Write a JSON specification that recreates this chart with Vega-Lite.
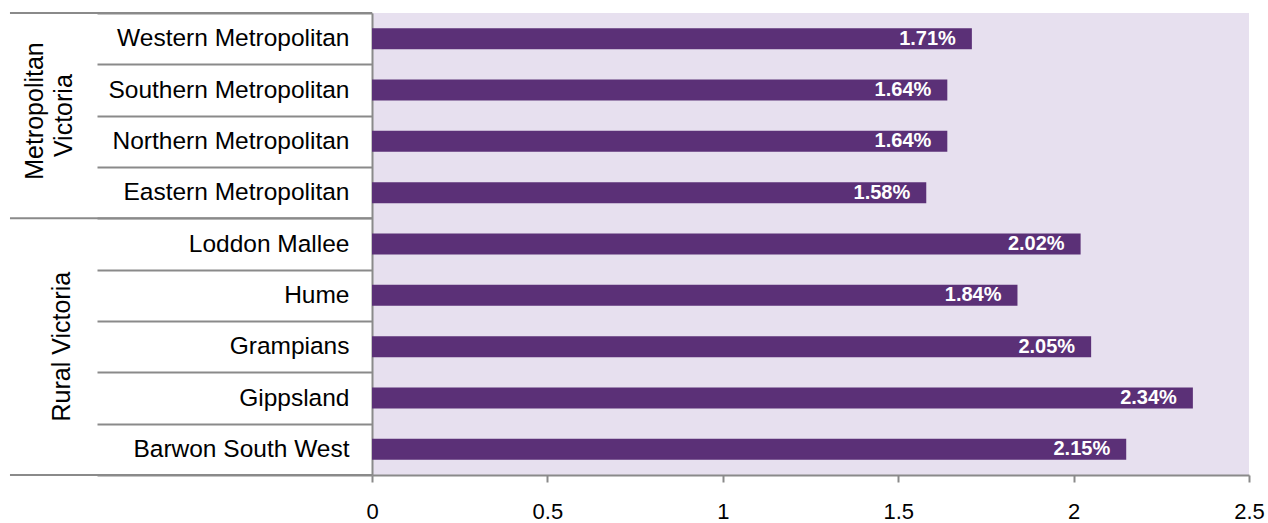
{
  "$schema": "https://vega.github.io/schema/vega-lite/v6.json",
  "width": 877,
  "height": 462,
  "autosize": {"type": "none"},
  "padding": {"left": 372, "top": 13, "right": 19, "bottom": 48},
  "background": "white",
  "config": {
    "font": "Liberation Sans",
    "view": {"fill": "#E7E0EF", "stroke": null},
    "axisX": {
      "grid": false,
      "domainColor": "#8A8A8A",
      "domainWidth": 2,
      "tickColor": "#8A8A8A",
      "tickWidth": 2,
      "tickSize": 7,
      "labelFontSize": 22,
      "labelColor": "#000000",
      "labelPadding": 19,
      "labelFlush": false
    },
    "axisY": {
      "grid": false,
      "tickBand": "extent",
      "tickSize": 275,
      "tickColor": "#8A8A8A",
      "tickWidth": 2,
      "domainColor": "#8A8A8A",
      "domainWidth": 2,
      "labelFontSize": 24.5,
      "labelColor": "#000000",
      "labelPadding": -252,
      "labelLimit": 400
    }
  },
  "datasets": {
    "regions": [
      {"region": "Western Metropolitan", "group": "Metropolitan Victoria", "value": 1.71, "label": "1.71%"},
      {"region": "Southern Metropolitan", "group": "Metropolitan Victoria", "value": 1.64, "label": "1.64%"},
      {"region": "Northern Metropolitan", "group": "Metropolitan Victoria", "value": 1.64, "label": "1.64%"},
      {"region": "Eastern Metropolitan", "group": "Metropolitan Victoria", "value": 1.58, "label": "1.58%"},
      {"region": "Loddon Mallee", "group": "Rural Victoria", "value": 2.02, "label": "2.02%"},
      {"region": "Hume", "group": "Rural Victoria", "value": 1.84, "label": "1.84%"},
      {"region": "Grampians", "group": "Rural Victoria", "value": 2.05, "label": "2.05%"},
      {"region": "Gippsland", "group": "Rural Victoria", "value": 2.34, "label": "2.34%"},
      {"region": "Barwon South West", "group": "Rural Victoria", "value": 2.15, "label": "2.15%"}
    ]
  },
  "data": {"name": "regions"},
  "layer": [
    {
      "mark": {"type": "bar", "color": "#5B3077", "size": 21},
      "encoding": {
        "y": {
          "field": "region", "type": "nominal", "title": null,
          "scale": {
            "domain": ["Western Metropolitan", "Southern Metropolitan", "Northern Metropolitan", "Eastern Metropolitan", "Loddon Mallee", "Hume", "Grampians", "Gippsland", "Barwon South West"],
            "paddingInner": 0, "paddingOuter": 0
          }
        },
        "x": {
          "field": "value", "type": "quantitative", "title": null,
          "scale": {"domain": [0, 2.5], "nice": false, "zero": false},
          "axis": {"values": [0, 0.5, 1, 1.5, 2, 2.5], "format": "~g", "title": null}
        }
      }
    },
    {
      "mark": {"type": "text", "color": "white", "fontWeight": "bold", "fontSize": 20, "align": "right", "baseline": "middle", "dx": -16},
      "encoding": {
        "y": {"field": "region", "type": "nominal", "title": null},
        "x": {"field": "value", "type": "quantitative", "title": null, "scale": {"domain": [0, 2.5], "nice": false, "zero": false}},
        "text": {"field": "label"}
      }
    },
    {
      "transform": [{"filter": {"field": "region", "oneOf": ["Western Metropolitan", "Loddon Mallee"]}}],
      "mark": {"type": "rule", "color": "#8A8A8A", "strokeWidth": 2},
      "encoding": {
        "y": {"field": "region", "type": "nominal", "bandPosition": 0, "title": null},
        "x": {"datum": -1.032, "type": "quantitative", "scale": {"domain": [0, 2.5], "nice": false, "zero": false}},
        "x2": {"datum": 0}
      }
    },
    {
      "transform": [{"filter": {"field": "region", "equal": "Barwon South West"}}],
      "mark": {"type": "rule", "color": "#8A8A8A", "strokeWidth": 2},
      "encoding": {
        "y": {"field": "region", "type": "nominal", "bandPosition": 1, "title": null},
        "x": {"datum": -1.032, "type": "quantitative", "scale": {"domain": [0, 2.5], "nice": false, "zero": false}},
        "x2": {"datum": 0}
      }
    },
    {
      "transform": [{"filter": {"field": "region", "equal": "Southern Metropolitan"}}],
      "mark": {"type": "text", "angle": 270, "fontSize": 25, "align": "center", "baseline": "middle", "color": "#000000", "text": "Metropolitan"},
      "encoding": {
        "y": {"field": "region", "type": "nominal", "bandPosition": 0.91, "title": null},
        "x": {"datum": -0.96, "type": "quantitative", "scale": {"domain": [0, 2.5], "nice": false, "zero": false}}
      }
    },
    {
      "transform": [{"filter": {"field": "region", "equal": "Northern Metropolitan"}}],
      "mark": {"type": "text", "angle": 270, "fontSize": 25, "align": "center", "baseline": "middle", "color": "#000000", "text": "Victoria"},
      "encoding": {
        "y": {"field": "region", "type": "nominal", "bandPosition": 0, "title": null},
        "x": {"datum": -0.879, "type": "quantitative", "scale": {"domain": [0, 2.5], "nice": false, "zero": false}}
      }
    },
    {
      "transform": [{"filter": {"field": "region", "equal": "Grampians"}}],
      "mark": {"type": "text", "angle": 270, "fontSize": 25, "align": "center", "baseline": "middle", "color": "#000000"},
      "encoding": {
        "y": {"field": "region", "type": "nominal", "title": null},
        "x": {"datum": -0.883, "type": "quantitative", "scale": {"domain": [0, 2.5], "nice": false, "zero": false}},
        "text": {"field": "group"}
      }
    }
  ]
}
